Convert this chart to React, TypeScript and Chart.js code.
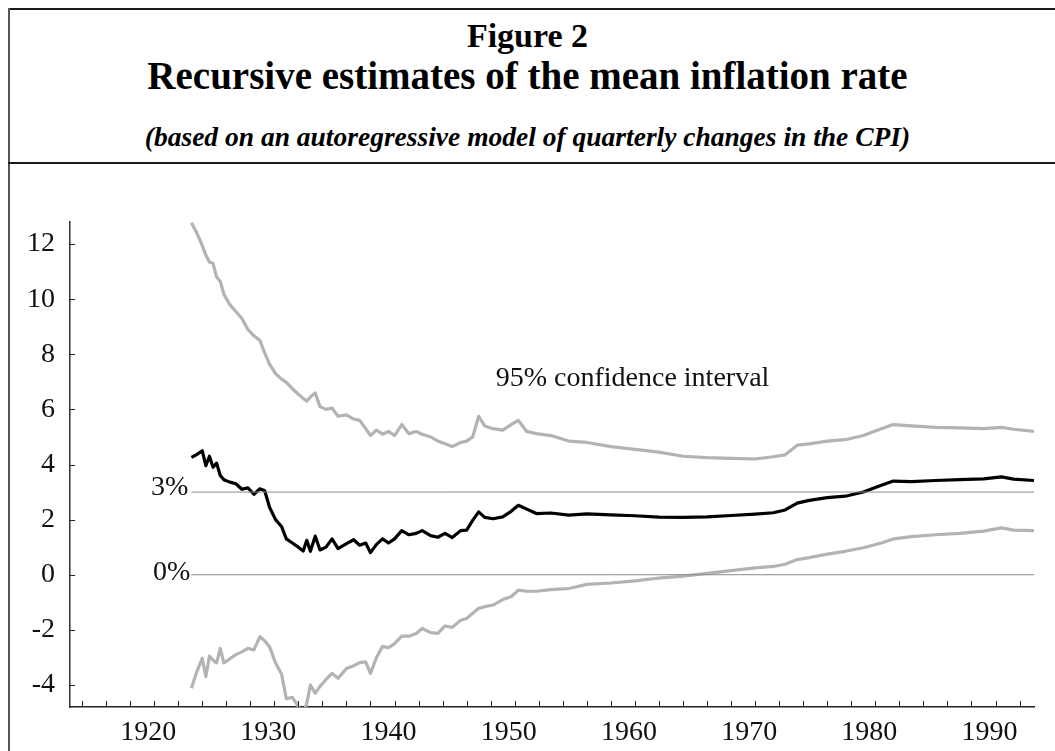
import React, { useEffect, useRef } from "react";
import { Chart, registerables } from "chart.js";

Chart.register(...registerables);

// ---- data ----
const years = [
  1923.1, 1923.5, 1924.0, 1924.3, 1924.6, 1924.9, 1925.2, 1925.5, 1925.8, 1926.3,
  1926.8, 1927.3, 1927.8, 1928.3, 1928.8, 1929.2, 1929.6, 1930.1, 1930.6, 1931.0,
  1931.5, 1932.0, 1932.4, 1932.7, 1933.0, 1933.4, 1933.8, 1934.3, 1934.8, 1935.3,
  1936.0, 1936.6, 1937.1, 1937.6, 1938.0, 1938.5, 1939.0, 1939.5, 1940.0, 1940.6,
  1941.2, 1941.8, 1942.3, 1943.0, 1943.6, 1944.2, 1944.8, 1945.5, 1946.0, 1946.5,
  1947.0, 1947.5, 1948.2, 1949.0, 1949.7, 1950.3, 1951.0, 1951.8, 1953.0, 1954.5,
  1956.0, 1958.0, 1960.0, 1962.0, 1964.0, 1966.0, 1968.0, 1970.0, 1971.5, 1972.5,
  1973.5, 1974.5, 1976.0, 1977.5, 1979.0, 1980.5, 1981.5, 1983.0, 1985.0, 1987.0,
  1989.0, 1990.5, 1991.5, 1993.2,
];

const upperCI = [
  12.77, 12.45, 11.95, 11.6, 11.35, 11.3, 10.8, 10.65, 10.18, 9.8,
  9.55, 9.3, 8.9, 8.67, 8.5, 8.05, 7.64, 7.3, 7.1, 6.98,
  6.75, 6.55, 6.4, 6.3, 6.45, 6.6, 6.1, 6.0, 6.05, 5.75,
  5.8, 5.65, 5.6, 5.3, 5.05, 5.25, 5.1, 5.2, 5.05, 5.45,
  5.12, 5.2, 5.1, 5.0, 4.85, 4.75, 4.65, 4.8, 4.85, 5.0,
  5.75, 5.4, 5.3, 5.25, 5.45, 5.6, 5.2, 5.12, 5.05, 4.85,
  4.8, 4.65, 4.55, 4.45, 4.3, 4.25, 4.22, 4.2, 4.28, 4.35,
  4.7, 4.75, 4.85, 4.9, 5.05, 5.3, 5.45, 5.4, 5.35, 5.33,
  5.3, 5.35, 5.28, 5.2,
];

const meanRate = [
  4.26, 4.35, 4.5, 3.96, 4.3, 3.9, 4.05, 3.6, 3.45, 3.36,
  3.3, 3.1, 3.15, 2.92, 3.12, 3.05, 2.45, 2.0, 1.75, 1.3,
  1.15, 1.0, 0.86, 1.25, 0.85, 1.4, 0.9, 1.0, 1.3, 0.95,
  1.13, 1.27, 1.07, 1.15, 0.8, 1.1, 1.3, 1.15, 1.3, 1.6,
  1.45, 1.5, 1.6, 1.42, 1.36, 1.5, 1.35, 1.6, 1.62, 1.97,
  2.28, 2.08, 2.03, 2.1, 2.3, 2.52, 2.38, 2.22, 2.24, 2.16,
  2.21, 2.17, 2.14, 2.09, 2.08, 2.1, 2.15, 2.2, 2.25, 2.35,
  2.6, 2.7, 2.8, 2.85, 3.0, 3.25, 3.4, 3.38, 3.42, 3.45,
  3.48, 3.55, 3.47, 3.42,
];

const lowerCI = [
  -4.12, -3.58, -3.03, -3.7, -2.95, -3.1, -3.2, -2.67, -3.2, -3.05,
  -2.9, -2.8, -2.67, -2.73, -2.25, -2.4, -2.61, -3.2, -3.6, -4.5,
  -4.45, -4.78, -5.1, -4.66, -4.0, -4.3, -4.05, -3.8, -3.58, -3.76,
  -3.4, -3.3, -3.19, -3.16, -3.58, -3.0, -2.6, -2.65, -2.5, -2.23,
  -2.23, -2.13, -1.95, -2.1, -2.13, -1.86, -1.91, -1.65, -1.59, -1.4,
  -1.22, -1.16, -1.1, -0.9, -0.8, -0.56, -0.6, -0.6, -0.54, -0.5,
  -0.35, -0.3, -0.22, -0.12, -0.05, 0.05, 0.15, 0.25, 0.3, 0.38,
  0.55, 0.62, 0.75, 0.85, 0.98, 1.15, 1.3, 1.38, 1.45, 1.5,
  1.58, 1.7, 1.62, 1.6,
];

const refLevels = [3, 0];
const refLabels = ["3%", "0%"];
const yTickValues = [-4, -2, 0, 2, 4, 6, 8, 10, 12];
const xLabelYears = [1920, 1930, 1940, 1950, 1960, 1970, 1980, 1990];
const xTickMarkYears = [
  1914, 1916, 1918, 1920, 1922, 1924, 1926, 1928, 1930, 1932, 1934, 1936, 1938,
  1940, 1942, 1944, 1946, 1948, 1950, 1952, 1954, 1956, 1958, 1960, 1962, 1964,
  1966, 1968, 1970, 1972, 1974, 1976, 1978, 1980, 1982, 1984, 1986, 1988, 1990,
  1992,
];
const ciLabel = "95% confidence interval";
const ciLabelAt = { x: 1959.8, y: 6.86 };

const SERIF = "'Liberation Serif', 'Times New Roman', serif";
const GRAY = "#b3b3b3";

const overlayPlugin = {
  id: "overlay",
  afterDatasetsDraw(chart: any) {
    const { ctx, chartArea } = chart;
    const xs = chart.scales.x;
    const ys = chart.scales.y;
    ctx.save();
    ctx.strokeStyle = "#222";
    ctx.lineWidth = 1;
    // inward y ticks
    yTickValues.forEach((v) => {
      const py = Math.round(ys.getPixelForValue(v)) + 0.5;
      ctx.beginPath();
      ctx.moveTo(chartArea.left, py);
      ctx.lineTo(chartArea.left + 5, py);
      ctx.stroke();
    });
    // inward x ticks
    xTickMarkYears.forEach((v) => {
      const px = Math.round(xs.getPixelForValue(v)) + 0.5;
      ctx.beginPath();
      ctx.moveTo(px, chartArea.bottom);
      ctx.lineTo(px, chartArea.bottom - 6);
      ctx.stroke();
    });
    // reference line labels
    ctx.fillStyle = "#111";
    ctx.font = `28px ${SERIF}`;
    ctx.textAlign = "right";
    ctx.textBaseline = "alphabetic";
    const offs = [
      { dx: -3, dy: 3 },
      { dx: -1, dy: 5.5 },
    ];
    refLevels.forEach((lv, i) => {
      const px = xs.getPixelForValue(years[0]);
      const py = ys.getPixelForValue(lv);
      ctx.fillText(refLabels[i], px + offs[i].dx, py + offs[i].dy);
    });
    // CI label
    ctx.textAlign = "center";
    ctx.fillText(ciLabel, xs.getPixelForValue(ciLabelAt.x), ys.getPixelForValue(ciLabelAt.y));
    ctx.restore();
  },
};

export default function App() {
  const canvasRef = useRef<HTMLCanvasElement | null>(null);

  useEffect(() => {
    const canvas = canvasRef.current;
    if (!canvas) return;
    const pts = (arr: number[]) => years.map((x, i) => ({ x, y: arr[i] }));
    const refData = (lv: number) => [
      { x: years[0], y: lv },
      { x: years[years.length - 1], y: lv },
    ];
    const chart = new Chart(canvas, {
      type: "line",
      data: {
        datasets: [
          ...refLevels.map((lv) => ({
            label: `ref${lv}`,
            data: refData(lv),
            borderColor: "#8a8a8a",
            borderWidth: 1,
            pointRadius: 0,
          })),
          { label: "upper", data: pts(upperCI), borderColor: GRAY, borderWidth: 3.2, pointRadius: 0 },
          { label: "lower", data: pts(lowerCI), borderColor: GRAY, borderWidth: 3.2, pointRadius: 0 },
          { label: "mean", data: pts(meanRate), borderColor: "#000", borderWidth: 3.2, pointRadius: 0 },
        ],
      },
      options: {
        responsive: false,
        animation: false,
        layout: { padding: { left: 0, right: 21, top: 58, bottom: 0 } },
        plugins: { legend: { display: false }, tooltip: { enabled: false }, title: { display: false } },
        elements: { line: { tension: 0, borderJoinStyle: "round", borderCapStyle: "butt" } },
        scales: {
          x: {
            type: "linear",
            min: 1913,
            max: 1993.2,
            afterBuildTicks: (s: any) => {
              s.ticks = xLabelYears.map((v) => ({ value: v }));
            },
            afterFit: (s: any) => {
              s.height = 44;
            },
            grid: { display: true, color: "rgba(0,0,0,0)", drawTicks: false },
            border: { display: true, color: "#222", width: 1.5 },
            ticks: {
              color: "#111",
              font: { family: SERIF, size: 28 },
              padding: 9,
              labelOffset: -6,
              maxRotation: 0,
              autoSkip: false,
              callback: (v: any) => String(v),
            },
          },
          y: {
            type: "linear",
            min: -4.8,
            max: 12.8,
            afterBuildTicks: (s: any) => {
              s.ticks = yTickValues.map((v) => ({ value: v }));
            },
            afterFit: (s: any) => {
              s.width = 60;
            },
            grid: { display: true, color: "rgba(0,0,0,0)", drawTicks: false },
            border: { display: true, color: "#333", width: 1.5 },
            ticks: {
              color: "#111",
              font: { family: SERIF, size: 28 },
              padding: 15,
              autoSkip: false,
              callback: (v: any) => String(v),
            },
          },
        },
      },
      plugins: [overlayPlugin],
    } as any);
    return () => chart.destroy();
  }, []);

  return (
    <div
      style={{
        position: "fixed",
        left: 0,
        top: 0,
        width: 1055,
        height: 751,
        overflow: "hidden",
        background: "#fff",
      }}
    >
      <div style={{ position: "absolute", left: 8, top: 8, width: 1100, height: 2, background: "#1a1a1a" }} />
      <div style={{ position: "absolute", left: 8, top: 8, width: 2, height: 800, background: "#555" }} />
      <div style={{ position: "absolute", left: 8, top: 162, width: 1100, height: 2, background: "#1a1a1a" }} />
      <div
        style={{
          position: "absolute",
          left: 0,
          width: 1055,
          top: 19,
          textAlign: "center",
          font: `bold 34px/1 ${SERIF}`,
          color: "#000",
          whiteSpace: "nowrap",
        }}
      >
        Figure 2
      </div>
      <div
        style={{
          position: "absolute",
          left: 0,
          width: 1055,
          top: 56,
          textAlign: "center",
          font: `bold 39px/1 ${SERIF}`,
          color: "#000",
          whiteSpace: "nowrap",
        }}
      >
        Recursive estimates of the mean inflation rate
      </div>
      <div
        style={{
          position: "absolute",
          left: 0,
          width: 1055,
          top: 123,
          textAlign: "center",
          font: `italic bold 27.5px/1 ${SERIF}`,
          color: "#000",
          whiteSpace: "nowrap",
        }}
      >
        (based on an autoregressive model of quarterly changes in the CPI)
      </div>
      <div style={{ position: "absolute", left: 10, top: 164, width: 1045, height: 587 }}>
        <canvas ref={canvasRef} width={1045} height={587} style={{ display: "block" }} />
      </div>
    </div>
  );
}
